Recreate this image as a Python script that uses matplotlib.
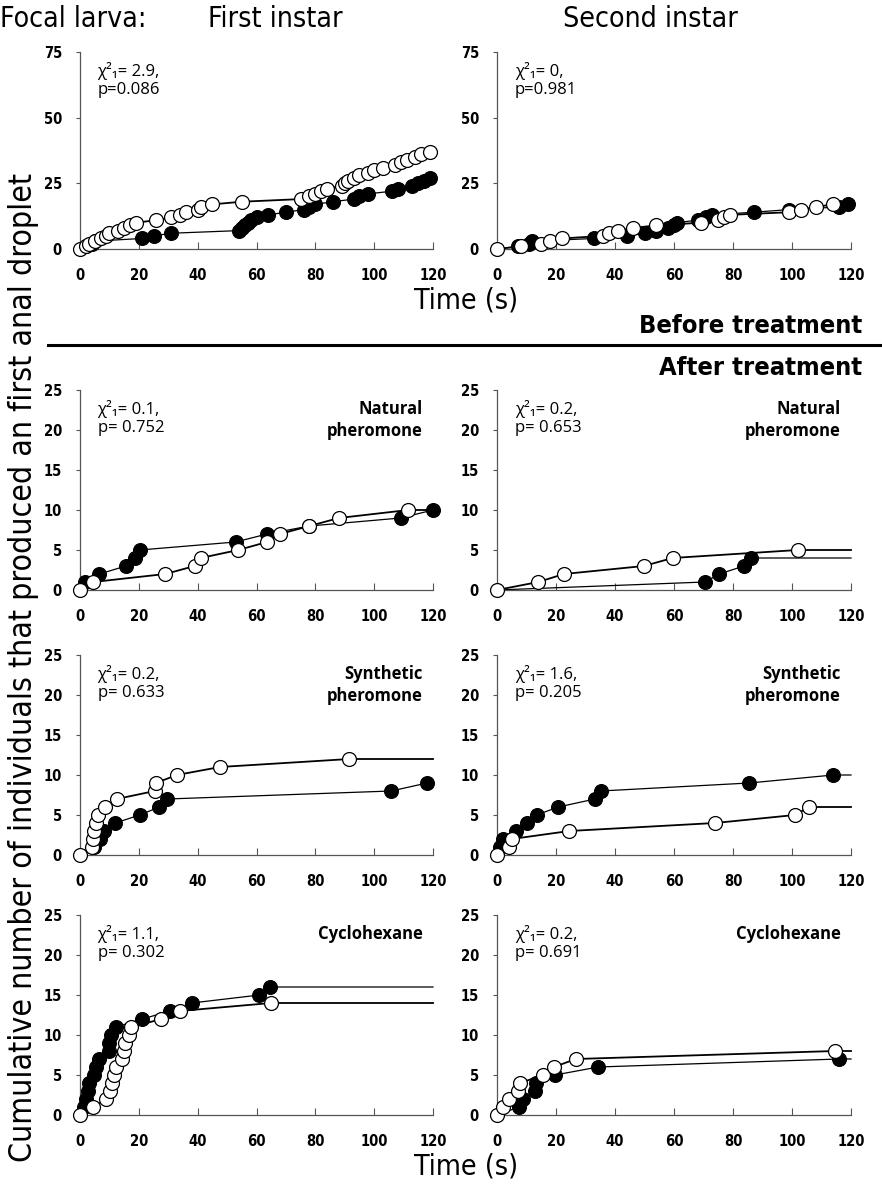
import numpy as np
import matplotlib.pyplot as plt
import matplotlib.font_manager as fm

# event times (s); each event adds one larva to the count
# filled = black markers, hollow = white markers
first_before_filled = [2, 4, 5, 21, 25, 31, 54, 55, 56, 57, 58, 60, 64, 70, 76, 78, 80, 86,
                       93, 95, 98, 106, 108, 113, 115, 117, 119]
first_before_hollow = [2, 3, 5, 7, 9, 10, 13, 15, 17, 19, 26, 31, 34, 36, 40, 41, 45, 55, 75,
                       78, 80, 82, 84, 89, 90, 91, 93, 95, 98, 100, 103, 107, 109, 111, 114,
                       116, 119]
second_before_filled = [7, 11, 12, 33, 44, 50, 54, 58, 60, 61, 68, 71, 73, 87, 99, 116, 119]
second_before_hollow = [8, 15, 18, 22, 36, 38, 41, 46, 54, 69, 75, 77, 79, 99, 103, 108, 114]

first_natural_filled = [1.7, 6.6, 15.6, 18.6, 20.3, 52.9, 63.6, 78, 109, 120]
first_natural_hollow = [4.5, 29, 39, 41, 53.8, 63.6, 68, 78, 88, 111.6]
second_natural_filled = [70.5, 75.4, 83.7, 86]
second_natural_hollow = [14, 22.7, 49.8, 59.5, 102]

first_synth_filled = [4.9, 6.9, 8.2, 12, 20.3, 27, 29.7, 105.8, 118]
first_synth_hollow = [4, 4.3, 4.6, 5.4, 6, 8.5, 12.5, 25.4, 25.8, 32.9, 47.6, 91.6]
second_synth_filled = [1, 2.1, 6.4, 10.3, 13.4, 20.8, 33.2, 35.1, 85.5, 114]
second_synth_hollow = [4, 5, 24.5, 73.9, 101, 105.8]

first_cyclo_filled = [1.5, 2, 2.6, 3.2, 4.9, 5.6, 6.3, 9.9, 10, 10.5, 12.2, 21.2, 30.6, 38,
                      61, 64.5]
first_cyclo_hollow = [4.5, 9, 10.3, 11, 11.6, 12.2, 14.2, 14.8, 15.4, 16.7, 17.5, 27.7, 33.9,
                      65]
second_cyclo_filled = [7.5, 8.7, 12.9, 13.2, 19.7, 34.3, 116]
second_cyclo_hollow = [2.1, 4.2, 7, 7.8, 15.7, 19.3, 26.7, 114.6]

stats = [["χ²₁= 2.9,\np=0.086", "χ²₁= 0,\np=0.981"],
         ["χ²₁= 0.1,\np= 0.752", "χ²₁= 0.2,\np= 0.653"],
         ["χ²₁= 0.2,\np= 0.633", "χ²₁= 1.6,\np= 0.205"],
         ["χ²₁= 1.1,\np= 0.302", "χ²₁= 0.2,\np= 0.691"]]
treatments = [None, "Natural\npheromone", "Synthetic\npheromone", "Cyclohexane"]

panels = [[(first_before_filled, first_before_hollow), (second_before_filled, second_before_hollow)],
          [(first_natural_filled, first_natural_hollow), (second_natural_filled, second_natural_hollow)],
          [(first_synth_filled, first_synth_hollow), (second_synth_filled, second_synth_hollow)],
          [(first_cyclo_filled, first_cyclo_hollow), (second_cyclo_filled, second_cyclo_hollow)]]

# pick a condensed face for the headings, whatever is installed
have = {(f.name, f.stretch) for f in fm.fontManager.ttflist}
names = {n for n, _ in have}
if 'Liberation Sans Narrow' in names:
    cond = dict(family='Liberation Sans Narrow')
    shrink = 1.0
elif ('DejaVu Sans', 'condensed') in have:
    cond = dict(family='DejaVu Sans', stretch='condensed')
    shrink = 0.85
elif 'Roboto Condensed' in names:
    cond = dict(family='Roboto Condensed')
    shrink = 0.95
else:
    cond = dict(family='Roboto')
    shrink = 0.85
plain = ['Open Sans', 'DejaVu Sans']

W, H = 882, 1188
fig = plt.figure(figsize=(W / 100, H / 100), dpi=100)

def rect(x0, y0, x1, y1):
    return [x0 / W, 1 - y1 / H, (x1 - x0) / W, (y1 - y0) / H]

rows_px = [(52, 249), (390, 590), (655, 855), (915, 1115)]
cols_px = [(80, 433), (497, 851)]

def draw_series(ax, times, filled):
    t = np.array(times, dtype=float)
    n = np.arange(1, len(t) + 1)
    xs = np.concatenate([[0], t, [120]])
    ys = np.concatenate([[0], n, [len(t)]])
    ax.plot(xs, ys, color='black', lw=0.9 if filled else 1.3, zorder=2, clip_on=False)
    if filled:
        ax.plot(t, n, 'o', ms=10, mfc='black', mec='black', mew=0.8, zorder=3, clip_on=False)
    else:
        ax.plot(np.concatenate([[0], t]), np.concatenate([[0], n]), 'o', ms=10, mfc='white',
                mec='black', mew=0.9, zorder=4, clip_on=False)

for r, (y0, y1) in enumerate(rows_px):
    for c, (x0, x1) in enumerate(cols_px):
        ax = fig.add_axes(rect(x0, y0, x1, y1))
        filled, hollow = panels[r][c]
        draw_series(ax, filled, True)
        draw_series(ax, hollow, False)
        ax.set_xlim(0, 120)
        ax.set_xticks(range(0, 121, 20))
        if r == 0:
            ax.set_ylim(0, 75)
            ax.set_yticks([0, 25, 50, 75])
        else:
            ax.set_ylim(0, 25)
            ax.set_yticks(range(0, 26, 5))
        for s in ['top', 'right']:
            ax.spines[s].set_visible(False)
        for s in ['left', 'bottom']:
            ax.spines[s].set_color('#555555')
            ax.spines[s].set_linewidth(0.9)
        ax.tick_params(axis='x', direction='in', length=5, width=0.8, color='#555555', pad=14)
        ax.tick_params(axis='y', direction='out', length=3, width=0.8, color='#555555', pad=10)
        for lab in ax.get_xticklabels() + ax.get_yticklabels():
            lab.set(**cond)
            lab.set_fontweight('bold')
            lab.set_fontsize(12.5 * shrink)
        ax.text(0.05, 0.95, stats[r][c], transform=ax.transAxes, ha='left', va='top',
                fontsize=12, family=plain, linespacing=1.2)
        if treatments[r]:
            ax.text(0.97, 0.95, treatments[r], transform=ax.transAxes, ha='right', va='top',
                    fontsize=12, fontweight='bold', family=plain, linespacing=1.3)

big = 24 * shrink
fig.text(0 / W, 1 - 19 / H, "Focal larva:", fontsize=big, ha='left', va='center', **cond)
fig.text(275 / W, 1 - 19 / H, "First instar", fontsize=big, ha='center', va='center', **cond)
fig.text(650 / W, 1 - 19 / H, "Second instar", fontsize=big, ha='center', va='center', **cond)
fig.text(466 / W, 1 - 300 / H, "Time (s)", fontsize=big, ha='center', va='center', **cond)
fig.text(466 / W, 1 - 1166 / H, "Time (s)", fontsize=big, ha='center', va='center', **cond)
fig.text(862 / W, 1 - 326 / H, "Before treatment", fontsize=21.5 * shrink, fontweight='bold',
         ha='right', va='center', **cond)
fig.text(862 / W, 1 - 368 / H, "After treatment", fontsize=21.5 * shrink, fontweight='bold',
         ha='right', va='center', **cond)
fig.add_artist(plt.Line2D([48 / W, 1], [1 - 345 / H, 1 - 345 / H], color='black', lw=2.2))
fig.text(24 / W, 1 - 667 / H,
         "Cumulative number of individuals that produced an first anal droplet",
         fontsize=27 * shrink, rotation=90, ha='center', va='center', **cond)

fig.savefig('out.png', dpi=100)
